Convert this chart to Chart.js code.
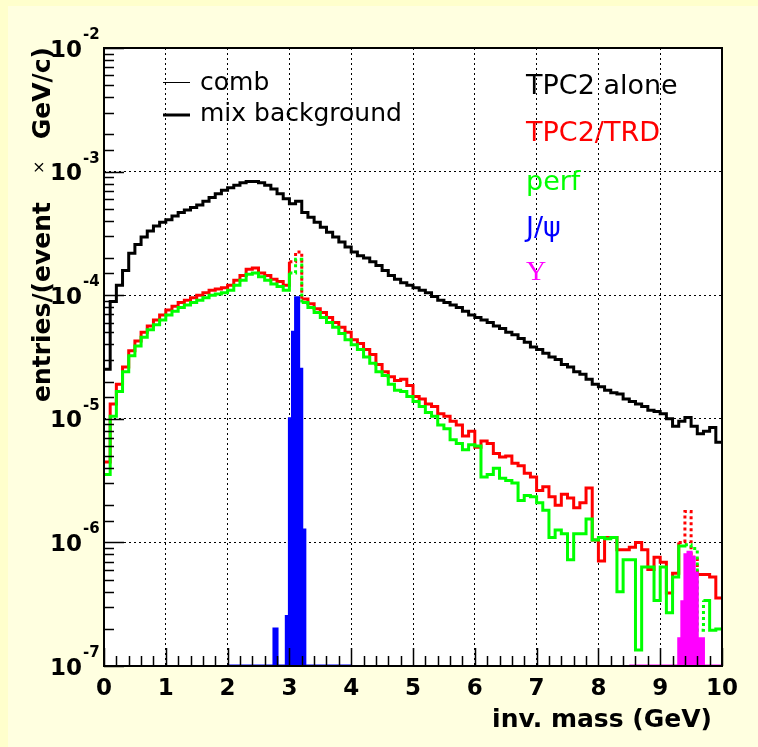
<!DOCTYPE html>
<html>
<head>
<meta charset="utf-8">
<title>inv. mass</title>
<script src="https://cdn.jsdelivr.net/npm/chart.js@4.4.1/dist/chart.umd.min.js"></script>
<style>
  html, body { margin: 0; padding: 0; background: #ffffe0; }
  canvas { display: block; }
</style>
</head>
<body>
<canvas id="massChart" width="758" height="747"></canvas>
<script>
// histograms in 0.1 GeV bins from 0 to 10 GeV
// values are log10(entries/(event GeV/c)), null = empty bin
const binWidth = 0.1;
const nBins = 100;

const mixBackground = [
  -4.60, -4.05, -3.92, -3.80, -3.66, -3.59, -3.53, -3.48, -3.44, -3.41,
  -3.39, -3.36, -3.33, -3.31, -3.29, -3.27, -3.24, -3.21, -3.18, -3.15,
  -3.13, -3.11, -3.09, -3.08, -3.08, -3.09, -3.11, -3.14, -3.18, -3.22,
  -3.26, -3.24, -3.33, -3.37, -3.41, -3.45, -3.49, -3.53, -3.57, -3.61,
  -3.65, -3.68, -3.70, -3.73, -3.76, -3.80, -3.84, -3.87, -3.90, -3.92,
  -3.94, -3.96, -3.98, -4.01, -4.04, -4.06, -4.08, -4.10, -4.13, -4.16,
  -4.18, -4.20, -4.22, -4.25, -4.27, -4.30, -4.32, -4.35, -4.38, -4.42,
  -4.44, -4.47, -4.50, -4.52, -4.56, -4.58, -4.62, -4.64, -4.68, -4.72,
  -4.74, -4.77, -4.79, -4.80, -4.84, -4.86, -4.88, -4.90, -4.93, -4.94,
  -4.96, -5.00, -5.06, -5.02, -4.99, -5.06, -5.12, -5.10, -5.07, -5.19
];

const tpc2Trd = [
  -5.35, -4.88, -4.72, -4.58, -4.45, -4.37, -4.30, -4.25, -4.20, -4.16,
  -4.12, -4.09, -4.06, -4.04, -4.02, -4.00, -3.98, -3.96, -3.95, -3.94,
  -3.92, -3.88, -3.84, -3.79, -3.78, -3.82, -3.84, -3.87, -3.89, -3.92,
  -3.73, -3.65, -4.03, -4.07, -4.11, -4.14, -4.18, -4.22, -4.26, -4.30,
  -4.36, -4.39, -4.44, -4.48, -4.56, -4.62, -4.66, -4.69, -4.68, -4.73,
  -4.82, -4.84, -4.88, -4.90, -4.96, -4.98, -5.02, -5.05, -5.14, -5.10,
  -5.23, -5.18, -5.20, -5.28, -5.31, -5.30, -5.36, -5.38, -5.44, -5.47,
  -5.58, -5.55, -5.63, -5.70, -5.61, -5.64, -5.72, -5.68, -5.56, -5.98,
  -6.15, -5.96, -5.96, -6.06, -6.06, -6.04, -6.00, -6.06, -6.22, -6.12,
  -6.16, -6.41, -6.25, -6.00, -5.75, -6.12, -6.26, -6.26, -6.28, -6.45
];

const perf = [
  -5.45, -4.98, -4.78, -4.62, -4.49, -4.41, -4.34, -4.28, -4.24, -4.20,
  -4.16, -4.13, -4.10, -4.08, -4.06, -4.04, -4.02, -4.00, -3.99, -3.98,
  -3.96, -3.92, -3.88, -3.83, -3.82, -3.85, -3.88, -3.91, -3.93, -3.96,
  -3.82, -3.71, -4.06, -4.10, -4.14, -4.18, -4.22, -4.26, -4.31, -4.36,
  -4.40, -4.44, -4.50, -4.55, -4.62, -4.65, -4.72, -4.77, -4.78, -4.82,
  -4.86, -4.90, -4.95, -4.98, -5.05, -5.08, -5.17, -5.20, -5.25, -5.21,
  -5.22, -5.47, -5.45, -5.40, -5.48, -5.50, -5.52, -5.66, -5.62, -5.63,
  -5.68, -5.74, -5.96, -5.90, -5.93, -6.14, -5.93, -5.93, -5.81, -5.98,
  -5.96, -5.97, -5.96, -6.40, -6.14, -6.14, -6.87, -6.20, -6.20, -6.47,
  -6.20, -6.57, -6.28, -6.03, -6.02, -6.05, -6.71, -6.47, -6.71, -6.70
];

// J/psi and Upsilon signals, variable bin edges
const jpsiEdges = [2.00, 2.75, 2.80, 2.95, 3.00, 3.05, 3.10, 3.15, 3.20, 3.25, 4.00];
const jpsiLog   = [null, -6.70, null, -6.60, -5.00, -4.30, -4.02, -4.60, -5.90, null];

const upsEdges = [8.50, 9.30, 9.35, 9.40, 9.45, 9.50, 9.55, 9.60, 9.70, 10.00];
const upsLog   = [null, -6.78, -6.48, -6.10, -6.08, -6.12, -6.25, -6.78, null];

// regions drawn dotted (the resonance windows)
const trdDotted  = [[3.0, 3.2], [9.3, 9.6]];
const perfDotted = [[3.0, 3.2], [9.4, 9.7]];

const xTickLabels = [0, 1, 2, 3, 4, 5, 6, 7, 8, 9, 10];
const yDecades = [-7, -6, -5, -4, -3, -2];
const yMin = 1e-7;
const yMax = 1e-2;

const fontName = '"DejaVu Sans", sans-serif';

const massEdges = [];
for (let i = 0; i <= nBins; i++) {
    massEdges.push(Math.round(i * binWidth * 100) / 100);
}

function histPoints(edges, logs) {
    const pts = logs.map((v, i) => ({ x: edges[i], y: v === null ? yMin : Math.pow(10, v) }));
    pts.push({ x: edges[logs.length], y: pts[pts.length - 1].y });
    return pts;
}

function dotted(ranges) {
    return ctx => {
        const x = ctx.p0.parsed.x;
        return ranges.some(r => x >= r[0] - 1e-6 && x < r[1] - 1e-6) ? [3, 3] : undefined;
    };
}

function isDecade(v) {
    const l = Math.log10(v);
    return Math.abs(l - Math.round(l)) < 1e-6;
}

// frame, inner ticks, tick labels, titles and legend in ROOT style
const rootStyle = {
    id: 'rootStyle',
    beforeDraw(chart) {
        const { ctx, chartArea: a } = chart;
        ctx.save();
        ctx.fillStyle = '#ffffe0';
        ctx.fillRect(0, 0, chart.width, chart.height);
        ctx.fillStyle = '#ffffcc';
        ctx.fillRect(0, 0, 8, chart.height);
        ctx.fillRect(0, 0, chart.width, 6);
        ctx.fillStyle = '#ffffff';
        ctx.fillRect(a.left, a.top, a.right - a.left, a.bottom - a.top);
        ctx.restore();
    },
    afterDatasetsDraw(chart) {
        const { ctx, chartArea: a } = chart;
        const xs = chart.scales.x;
        const ys = chart.scales.y;
        ctx.save();

        // inner tick marks
        ctx.strokeStyle = '#000';
        ctx.lineWidth = 1.5;
        ctx.beginPath();
        ys.ticks.forEach(t => {
            const y = Math.round(ys.getPixelForValue(t.value)) + 0.5;
            const len = isDecade(t.value) ? 20 : 10;
            ctx.moveTo(a.left, y);
            ctx.lineTo(a.left + len, y);
        });
        for (let k = 0; k <= 50; k++) {
            const x = Math.round(xs.getPixelForValue(k * 0.2)) + 0.5;
            const len = k % 5 === 0 ? 18 : 10;
            ctx.moveTo(x, a.bottom);
            ctx.lineTo(x, a.bottom - len);
        }
        ctx.stroke();

        // frame
        ctx.lineWidth = 2;
        ctx.strokeRect(a.left, a.top, a.right - a.left, a.bottom - a.top);

        // y tick labels 10^n
        ctx.fillStyle = '#000';
        yDecades.forEach(d => {
            const y = ys.getPixelForValue(Math.pow(10, d));
            ctx.font = 'bold 23px ' + fontName;
            ctx.textAlign = 'right';
            ctx.textBaseline = 'alphabetic';
            ctx.fillText('10', 82, y + 8.5);
            ctx.font = 'bold 15px ' + fontName;
            ctx.textAlign = 'left';
            ctx.fillText(String(d), 83, y - 9);
        });

        // x title
        ctx.font = 'bold 25px ' + fontName;
        ctx.textAlign = 'right';
        ctx.fillText('inv. mass (GeV)', 712, 727);

        // y title
        ctx.save();
        ctx.translate(50, 402);
        ctx.rotate(-Math.PI / 2);
        ctx.textAlign = 'left';
        ctx.font = 'bold 25px ' + fontName;
        ctx.fillText('entries/(event', 0, 0);
        ctx.font = '16px ' + fontName;
        ctx.fillText('\u00d7', 228, -6);
        ctx.font = 'bold 25px ' + fontName;
        ctx.textAlign = 'right';
        ctx.fillText('GeV/c)', 355, 0);
        ctx.restore();

        // legend, left block
        ctx.strokeStyle = '#000';
        ctx.lineWidth = 1;
        ctx.beginPath();
        ctx.moveTo(163, 82.5);
        ctx.lineTo(190, 82.5);
        ctx.stroke();
        ctx.lineWidth = 3;
        ctx.beginPath();
        ctx.moveTo(163, 115);
        ctx.lineTo(190, 115);
        ctx.stroke();
        ctx.font = '25px ' + fontName;
        ctx.textAlign = 'left';
        ctx.fillStyle = '#000';
        ctx.fillText('comb', 200, 90);
        ctx.fillText('mix background', 200, 121);

        // legend, right block
        ctx.font = '27px ' + fontName;
        ctx.fillStyle = '#000000';
        ctx.fillText('TPC2 alone', 526, 94);
        ctx.fillStyle = '#ff0000';
        ctx.fillText('TPC2/TRD', 526, 141);
        ctx.fillStyle = '#00ff00';
        ctx.fillText('perf', 526, 190);
        ctx.fillStyle = '#0000ff';
        ctx.fillText('J/\u03c8', 526, 236);
        ctx.fillStyle = '#ff00ff';
        ctx.font = '28px "Liberation Serif", serif';
        ctx.fillText('\u03a5', 526, 280);

        ctx.restore();
    }
};

document.addEventListener('DOMContentLoaded', function() {
    const canvas = document.getElementById('massChart').getContext('2d');

    new Chart(canvas, {
        type: 'line',
        data: {
            datasets: [
                {
                    label: 'mix background',
                    data: histPoints(massEdges, mixBackground),
                    borderColor: '#000000',
                    borderWidth: 3,
                    stepped: true,
                    fill: false,
                    order: 5
                },
                {
                    label: 'TPC2/TRD',
                    data: histPoints(massEdges, tpc2Trd),
                    borderColor: '#ff0000',
                    borderWidth: 3,
                    stepped: true,
                    fill: false,
                    segment: { borderDash: dotted(trdDotted) },
                    order: 4
                },
                {
                    label: 'perf',
                    data: histPoints(massEdges, perf),
                    borderColor: '#00ff00',
                    borderWidth: 3,
                    stepped: true,
                    fill: false,
                    segment: { borderDash: dotted(perfDotted) },
                    order: 3
                },
                {
                    label: 'J/psi',
                    data: histPoints(jpsiEdges, jpsiLog),
                    borderColor: '#0000ff',
                    backgroundColor: '#0000ff',
                    borderWidth: 3,
                    stepped: true,
                    fill: 'start',
                    order: 2
                },
                {
                    label: 'Upsilon',
                    data: histPoints(upsEdges, upsLog),
                    borderColor: '#ff00ff',
                    backgroundColor: '#ff00ff',
                    borderWidth: 3,
                    stepped: true,
                    fill: 'start',
                    order: 1
                }
            ]
        },
        options: {
            responsive: false,
            animation: false,
            devicePixelRatio: 1,
            layout: { padding: { left: 0, top: 48, right: 36, bottom: 0 } },
            plugins: {
                legend: { display: false },
                tooltip: { enabled: false }
            },
            elements: {
                point: { radius: 0 },
                line: { tension: 0 }
            },
            scales: {
                x: {
                    type: 'linear',
                    min: 0,
                    max: 10,
                    afterBuildTicks: scale => {
                        scale.ticks = xTickLabels.map(v => ({ value: v }));
                    },
                    ticks: {
                        color: '#000',
                        font: { family: fontName, size: 23, weight: 'bold' },
                        padding: 9,
                        maxRotation: 0,
                        autoSkip: false
                    },
                    grid: { color: '#000', lineWidth: 1, drawTicks: false },
                    border: { display: false, dash: [2, 3] },
                    afterFit: scale => { scale.height = 81; }
                },
                y: {
                    type: 'logarithmic',
                    min: yMin,
                    max: yMax,
                    ticks: { display: false },
                    grid: {
                        color: ctx => isDecade(ctx.tick.value) ? '#000' : 'rgba(0,0,0,0)',
                        lineWidth: 1,
                        drawTicks: false
                    },
                    border: { display: false, dash: [2, 3] },
                    afterFit: scale => { scale.width = 104; }
                }
            }
        },
        plugins: [rootStyle]
    });
});
</script>
</body>
</html>
